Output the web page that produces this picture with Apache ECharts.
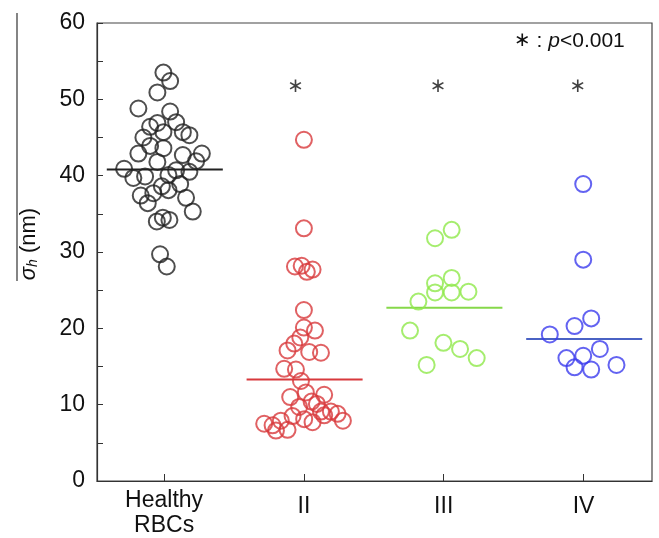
<!DOCTYPE html>
<html>
<head>
<meta charset="utf-8">
<script src="https://cdn.jsdelivr.net/npm/echarts@6/dist/echarts.min.js"></script>
<style>
  html, body { margin: 0; padding: 0; background: #fff; }
  #chart { width: 659px; height: 538px; }
</style>
</head>
<body>
<div id="chart"></div>
<script>
// group labels and positions on the x axis
const groupNames = ['Healthy\nRBCs', 'II', 'III', 'IV']
const groupPos = [1, 2, 3, 4]
const groupColors = ['#222222', '#d8393c', '#8ee84a', '#3c3cee']
const meanColors = ['#222222', '#d8393c', '#86d84a', '#4a62c4']

// jittered points, [x, sigma_h]
const healthyPts = [
  [0.995, 53.5], [1.043, 52.4], [0.952, 50.9], [0.816, 48.8], [1.043, 48.4],
  [1.086, 47.0], [0.952, 46.9], [0.900, 46.4], [0.995, 45.7], [1.134, 45.7],
  [1.181, 45.3], [0.852, 45.0], [0.900, 43.9], [0.995, 43.6], [0.816, 42.9],
  [1.134, 42.7], [1.270, 42.9], [1.229, 41.9], [0.952, 41.8], [0.714, 40.9],
  [0.780, 39.7], [0.864, 39.9], [1.086, 40.7], [1.181, 40.5], [1.031, 40.1],
  [1.115, 38.9], [0.984, 38.6], [1.031, 38.1], [0.923, 37.7], [0.833, 37.4],
  [1.157, 37.1], [0.883, 36.4], [1.205, 35.3], [0.991, 34.5], [1.038, 34.2],
  [0.948, 34.0], [0.971, 29.7], [1.019, 28.1]
]
const stageIIPts = [
  [2.000, 44.7], [2.000, 33.1], [1.936, 28.1], [1.984, 28.2], [2.021, 27.4],
  [2.062, 27.7], [2.000, 22.4], [2.000, 20.1], [2.079, 19.7], [1.974, 18.8],
  [1.931, 18.0], [1.883, 17.1], [2.038, 16.9], [2.122, 16.8], [1.859, 14.7],
  [1.943, 14.6], [1.979, 13.1], [2.014, 11.6], [1.902, 11.0], [2.145, 11.3],
  [2.055, 10.4], [2.093, 10.1], [1.966, 9.7], [2.122, 9.1], [2.193, 9.1],
  [2.241, 8.8], [2.279, 7.9], [1.716, 7.5], [1.776, 7.3], [1.835, 7.9],
  [1.919, 8.5], [1.800, 6.6], [1.883, 6.7], [2.002, 8.1], [2.062, 7.7],
  [2.145, 8.6]
]
const stageIIIPts = [
  [2.938, 31.8], [3.057, 32.9], [2.938, 25.9], [3.057, 26.6], [2.938, 24.7],
  [3.057, 24.7], [3.177, 24.8], [2.819, 23.5], [2.759, 19.7], [2.998, 18.1],
  [3.117, 17.3], [3.236, 16.1], [2.878, 15.2]
]
const stageIVPts = [
  [3.998, 38.9], [3.998, 29.0], [4.055, 21.3], [3.936, 20.3], [3.759, 19.2],
  [4.117, 17.3], [3.878, 16.1], [3.998, 16.4], [3.936, 14.9], [4.055, 14.6],
  [4.236, 15.2]
]
const meanValues = [40.8, 13.3, 22.7, 18.6]

// significance marks
const starX = [1.94, 2.96, 3.96]
const starY = [51.6, 51.6, 51.6]

const yTicks = [0, 60, 10]

const font = '"Liberation Sans", Arial, sans-serif'
const allPts = [healthyPts, stageIIPts, stageIIIPts, stageIVPts]

const series = []
allPts.forEach((pts, i) => {
  series.push({
    type: 'scatter',
    symbol: 'circle',
    symbolSize: 16,
    itemStyle: {
      color: 'rgba(0,0,0,0)',
      borderColor: groupColors[i],
      borderWidth: 2
    },
    z: 3,
    data: pts
  })
  series.push({
    type: 'line',
    symbol: 'none',
    lineStyle: { color: meanColors[i], width: 2 },
    z: 2,
    data: [[groupPos[i] - 0.41, meanValues[i]], [groupPos[i] + 0.42, meanValues[i]]]
  })
})
series.push({
  type: 'scatter',
  symbolSize: 0,
  label: {
    show: true,
    position: 'inside',
    formatter: '∗',
    fontFamily: '"DejaVu Sans", sans-serif',
    fontSize: 20,
    color: '#111'
  },
  data: starX.map((x, i) => [x, starY[i]])
})

const option = {
  animation: false,
  grid: {
    left: 97,
    right: 7,
    top: 23,
    bottom: 50,
    show: true,
    borderColor: '#444',
    borderWidth: 1.2
  },
  xAxis: {
    type: 'value',
    min: 0.52,
    max: 4.49,
    splitLine: { show: false },
    axisLine: { lineStyle: { color: '#333', width: 1.2 } },
    axisTick: {
      inside: true,
      length: 7,
      customValues: groupPos,
      lineStyle: { color: '#333' }
    },
    axisLabel: {
      customValues: groupPos,
      formatter: (v) => {
        const name = groupNames[Math.round(v) - 1]
        return name.indexOf('\n') >= 0 ? name : '{one|' + name + '}'
      },
      fontFamily: font,
      fontSize: 23,
      color: '#111',
      lineHeight: 25,
      margin: 7,
      rich: {
        one: { fontFamily: font, fontSize: 23, color: '#111', padding: [12, 0, 0, 0] }
      }
    }
  },
  yAxis: {
    type: 'value',
    min: yTicks[0],
    max: yTicks[1],
    interval: yTicks[2],
    splitLine: { show: false },
    axisLine: { show: true, lineStyle: { color: '#333', width: 1.2 } },
    axisTick: { inside: true, length: 6, lineStyle: { color: '#333' } },
    minorTick: { show: true, splitNumber: 2, length: 6, lineStyle: { color: '#333' } },
    axisLabel: {
      fontFamily: font,
      fontSize: 23,
      color: '#111',
      margin: 12
    }
  },
  graphic: [
    {
      type: 'text',
      x: 29,
      y: 244,
      rotation: Math.PI / 2,
      style: {
        text: '{s|σ}{h|h}{n| (nm)}',
        align: 'center',
        verticalAlign: 'middle',
        rich: {
          s: { fontFamily: font, fontSize: 22, fontStyle: 'italic', fill: '#111' },
          h: { fontFamily: font, fontSize: 14, fontStyle: 'italic', fill: '#111', padding: [8, 0, 0, 0] },
          n: { fontFamily: font, fontSize: 22, fill: '#111' }
        }
      }
    },
    {
      type: 'line',
      shape: { x1: 17, y1: 13, x2: 17, y2: 281 },
      style: { stroke: '#333', lineWidth: 1.2 }
    },
    {
      type: 'text',
      x: 514,
      y: 41,
      style: {
        text: '{st|∗}{a| : }{p|p}{a|<0.001}',
        verticalAlign: 'middle',
        rich: {
          st: { fontFamily: '"DejaVu Sans", sans-serif', fontSize: 20, fill: '#111' },
          a: { fontFamily: font, fontSize: 21, fill: '#111' },
          p: { fontFamily: font, fontSize: 21, fontStyle: 'italic', fill: '#111' }
        }
      }
    }
  ],
  series: series
}

const chart = echarts.init(document.getElementById('chart'))
chart.setOption(option)
</script>
</body>
</html>
